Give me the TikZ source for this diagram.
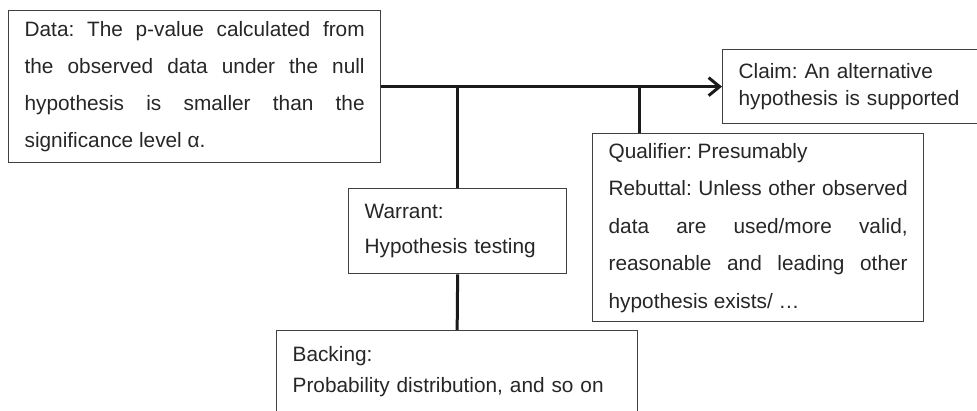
\documentclass[tikz,border=0pt]{standalone}
\usepackage{fontspec}
\setmainfont{Liberation Sans}
\usetikzlibrary{arrows.meta}
\definecolor{boxgray}{RGB}{64,64,64}
\definecolor{textgray}{RGB}{38,38,38}
\definecolor{linedark}{RGB}{26,26,26}
\hyphenpenalty=10000
\exhyphenpenalty=10000
\frenchspacing

\begin{document}
\begin{tikzpicture}[x=1pt, y=-1pt,
    argbox/.style={draw=boxgray, line width=1.3pt, text=textgray, anchor=north west,
        inner xsep=16pt, inner ysep=0pt},
    link/.style={linedark, line width=3pt}]
        \useasboundingbox (0,0) rectangle (977,411);

        % Draw the boxes of the argument
        \node[argbox, text width=340pt, minimum height=152pt, align=justify,
            font={\fontsize{20.8}{36.7}\selectfont}] (data) at (8,10)
            {Data: The p-value calculated from the observed data under the null hypothesis is smaller than the significance level α.};
        \node[argbox, text width=280pt, minimum height=74pt, align=left,
            font={\fontsize{20.8}{27}\selectfont}] (claim) at (722,49)
            {Claim: An alternative\\hypothesis is supported};
        \node[argbox, text width=299pt, minimum height=188pt, align=justify,
            font={\fontsize{20.8}{37.5}\selectfont}] (qual) at (592,133)
            {Qualifier: Presumably\par Rebuttal: Unless other observed data are used/more valid, reasonable and leading other hypothesis exists/ …};
        \node[argbox, text width=186pt, minimum height=85pt, align=left,
            font={\fontsize{20.8}{35}\selectfont}] (warrant) at (348,188)
            {Warrant:\\Hypothesis testing};
        \node[argbox, text width=329pt, minimum height=82pt, align=left,
            font={\fontsize{20.8}{31}\selectfont}] (backing) at (276,330)
            {Backing:\\Probability distribution, and so on};

        % Draw the main line from data to claim
        \draw[link, -{Straight Barb[length=11pt, width=18pt]}] (data.east) -- (claim.west);

        % Draw the branches down to warrant, backing and qualifier
        \coordinate (wjoin) at (data.east -| warrant.north);
        \coordinate (qjoin) at (639,86);
        \draw[link] (wjoin) -- (warrant.north);
        \draw[link] (warrant.south) -- (backing.north);
        \draw[link] (qjoin) -- (qjoin |- qual.north);
    \end{tikzpicture}
\end{document}
